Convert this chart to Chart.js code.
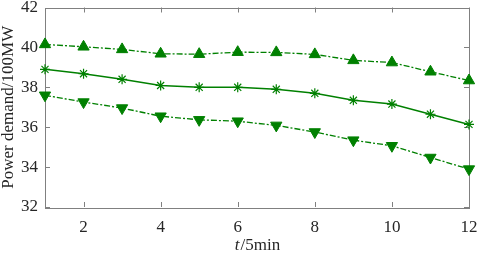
<!DOCTYPE html>
<html>
<head>
<meta charset="utf-8">
<script src="https://cdn.jsdelivr.net/npm/chart.js@4/dist/chart.umd.min.js"></script>
<style>
html,body{margin:0;padding:0;background:#fff;}
#wrap{width:477px;height:253px;position:relative;}
</style>
</head>
<body>
<div id="wrap"><canvas id="c" width="477" height="253"></canvas></div>
<script>
const timeSteps = [1,2,3,4,5,6,7,8,9,10,11,12];
const upperBound = [40.15,40.03,39.9,39.68,39.66,39.76,39.75,39.65,39.35,39.24,38.78,38.34];
const forecast   = [38.9,38.68,38.4,38.09,38.0,38.0,37.9,37.7,37.35,37.16,36.65,36.14];
const lowerBound = [37.6,37.26,36.96,36.55,36.37,36.3,36.09,35.76,35.35,35.07,34.48,33.9];
const xTickValues = [2,4,6,8,10,12];
const yTickValues = [32,34,36,38,40,42];
const yAxisTitle = 'Power demand/100MW';
const xTitleItalic = 't';
const xTitleRest = '/5min';

const green = 'rgb(0,128,0)';
const axisColor = '#808080';
const textColor = '#262626';
const fontFamily = '"Liberation Serif","Times New Roman",serif';
const fs = 17;

function pts(arr){ return timeSteps.map((t,i)=>({x:t,y:arr[i]})); }

const framePlugin = {
  id:'frame',
  beforeDatasetsDraw(chart){
    const {ctx, chartArea:a, scales} = chart;
    ctx.save();
    ctx.strokeStyle = axisColor;
    ctx.lineWidth = 1;
    ctx.strokeRect(Math.round(a.left)+0.5, Math.round(a.top)+0.5, Math.round(a.right-a.left), Math.round(a.bottom-a.top));
    const tl = 5;
    ctx.beginPath();
    xTickValues.forEach(v=>{
      const px = Math.round(scales.x.getPixelForValue(v))+0.5;
      ctx.moveTo(px, a.bottom); ctx.lineTo(px, a.bottom-tl);
      ctx.moveTo(px, a.top); ctx.lineTo(px, a.top+tl);
    });
    yTickValues.forEach(v=>{
      const py = Math.round(scales.y.getPixelForValue(v))+0.5;
      ctx.moveTo(a.left, py); ctx.lineTo(a.left+tl, py);
      ctx.moveTo(a.right, py); ctx.lineTo(a.right-tl, py);
    });
    ctx.stroke();
    // titles
    ctx.fillStyle = textColor;
    ctx.textBaseline = 'middle';
    const cx = (a.left+a.right)/2;
    ctx.font = 'italic ' + fs + 'px ' + fontFamily;
    const w1 = ctx.measureText(xTitleItalic).width;
    ctx.font = fs + 'px ' + fontFamily;
    const w2 = ctx.measureText(xTitleRest).width;
    let sx = cx - (w1+w2)/2;
    ctx.textAlign = 'left';
    ctx.font = 'italic ' + fs + 'px ' + fontFamily;
    ctx.fillText(xTitleItalic, sx, 246);
    ctx.font = fs + 'px ' + fontFamily;
    ctx.fillText(xTitleRest, sx+w1+1, 246);
    ctx.translate(9, (a.top+a.bottom)/2);
    ctx.rotate(-Math.PI/2);
    ctx.textAlign = 'center';
    ctx.fillText(yAxisTitle, 0, 0);
    ctx.restore();
  }
};

new Chart(document.getElementById('c'), {
  type:'line',
  data:{
    datasets:[
      {data:pts(upperBound), borderColor:green, backgroundColor:green, borderWidth:1.3, clip:false,
       borderDash:[6,2,2,2], pointStyle:'triangle', pointRadius:6.5, pointBorderWidth:1, tension:0},
      {data:pts(forecast), borderColor:green, backgroundColor:green, borderWidth:1.5, clip:false,
       pointStyle:'star', pointRadius:5, pointBorderWidth:1.2, tension:0},
      {data:pts(lowerBound), borderColor:green, backgroundColor:green, borderWidth:1.3, clip:false,
       borderDash:[6,2,2,2], pointStyle:'triangle', pointRotation:180, pointRadius:6.5, pointBorderWidth:1, tension:0}
    ]
  },
  options:{
    responsive:false, animation:false, devicePixelRatio:1,
    layout:{padding:{left:0,right:8,top:5,bottom:0}},
    plugins:{legend:{display:false}, tooltip:{enabled:false}},
    scales:{
      x:{type:'linear', min:1, max:12,
         afterBuildTicks(s){ s.ticks = xTickValues.map(v=>({value:v})); },
         afterFit(s){ s.height = 46; s.paddingLeft = 0; s.paddingRight = 0; },
         grid:{display:false, drawTicks:false}, border:{display:false},
         ticks:{padding:10, color:textColor, font:{family:fontFamily,size:fs}, maxRotation:0, autoSkip:false}},
      y:{type:'linear', min:32, max:42,
         afterBuildTicks(s){ s.ticks = yTickValues.map(v=>({value:v})); },
         afterFit(s){ s.width = 45; s.paddingTop = 0; s.paddingBottom = 0; },
         grid:{display:false, drawTicks:false}, border:{display:false},
         ticks:{padding:7, color:textColor, font:{family:fontFamily,size:fs}}}
    }
  },
  plugins:[framePlugin]
});
</script>
</body>
</html>
